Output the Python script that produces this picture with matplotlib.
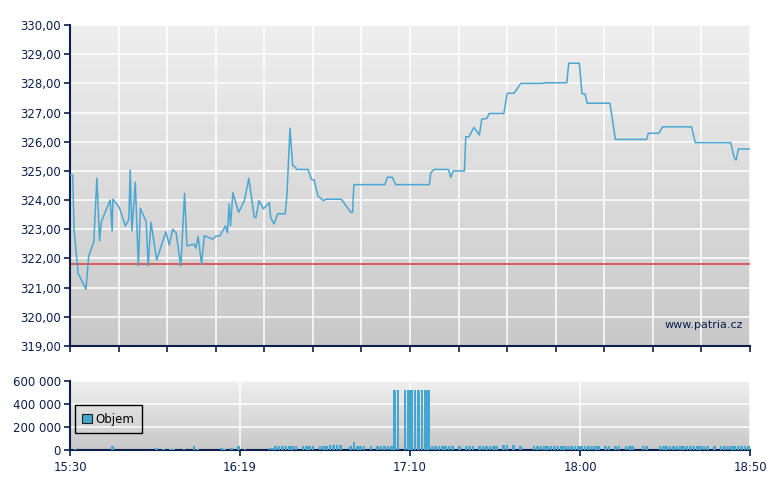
import numpy as np
import matplotlib
matplotlib.use("Agg")
import matplotlib.pyplot as plt
from matplotlib.colors import LinearSegmentedColormap
from matplotlib.patches import Patch

# cena: minuty od 15:30, kurz v CZK
price_min = [0.0, 0.3, 0.8, 1.2, 2.4, 4.7, 5.5, 7.0, 7.9, 8.7, 9.2, 11.8, 12.4, 12.6,
             14.5, 16.3, 17.3, 17.7, 18.2, 19.2, 20.1, 20.7, 22.4, 23.0, 23.8, 25.5,
             28.2, 29.2, 30.2, 31.2, 32.6, 33.7, 34.4, 36.5, 37.0, 37.7, 38.7, 39.5,
             42.0, 42.9, 44.1, 44.6, 45.7, 46.3, 46.8, 47.2, 47.9, 49.6, 51.3, 52.6,
             54.2, 54.7, 55.6, 56.9, 58.6, 59.0, 60.0, 61.1, 63.3, 63.8, 64.7, 65.5,
             66.2, 66.7, 70.0, 71.0, 71.8, 72.9, 74.5, 75.3, 79.8, 82.6, 83.1, 83.5,
             92.6, 93.3, 94.8, 95.8, 105.7, 106.1, 107.1, 111.3, 112.0, 112.7, 116.0,
             116.4, 117.3, 118.8, 120.4, 121.1, 122.6, 123.3, 127.6, 128.6, 130.6,
             132.6, 139.0, 139.7, 146.1, 146.7, 149.8, 150.6, 151.5, 152.1, 158.8,
             160.4, 169.6, 170.1, 173.2, 174.3, 182.8, 183.9, 194.3, 195.3, 195.9,
             196.6, 200.0]
price_val = [324.86, 324.86, 324.86, 322.97, 321.49, 320.95, 322.08, 322.57, 324.75,
             322.60, 323.26, 324.00, 322.94, 324.03, 323.75, 323.11, 323.34, 325.03,
             322.94, 324.61, 321.74, 323.72, 323.26, 321.74, 323.24, 321.95, 322.92,
             322.46, 323.00, 322.88, 321.74, 324.23, 322.43, 322.49, 322.35, 322.75,
             321.80, 322.78, 322.66, 322.77, 322.77, 322.88, 323.11, 322.88, 323.87,
             323.12, 324.25, 323.58, 323.98, 324.75, 323.40, 323.41, 323.98, 323.70,
             323.91, 323.41, 323.18, 323.53, 323.53, 324.17, 326.46, 325.18, 325.14,
             325.05, 325.05, 324.71, 324.69, 324.15, 323.98, 324.03, 324.03, 323.58,
             323.58, 324.53, 324.53, 324.78, 324.78, 324.53, 324.53, 324.94, 325.05,
             325.05, 324.78, 325.00, 325.00, 326.17, 326.17, 326.49, 326.23, 326.77,
             326.80, 326.97, 326.97, 327.66, 327.66, 328.00, 328.00, 328.02, 328.02,
             328.69, 328.69, 327.64, 327.64, 327.32, 327.32, 326.08, 326.08, 326.29,
             326.29, 326.51, 326.51, 325.97, 325.97, 325.47, 325.37, 325.75, 325.75]
prev_close = 321.8

# objem po minutach (tisice kusu)
vol_min = [1, 12, 25, 27, 29, 30, 33, 36, 37, 44, 45, 47, 49, 51, 58, 59, 60, 61, 62,
           63, 64, 65, 66, 68, 69, 70, 71, 73, 74, 75, 76, 77, 78, 79, 82, 83, 84, 85,
           86, 88, 90, 91, 92, 93, 94, 95, 96, 98, 99, 100, 101, 102, 103, 104, 105,
           106, 107, 108, 109, 110, 111, 112, 114, 116, 117, 118, 120, 121, 122, 123,
           124, 125, 127, 128, 130, 132, 136, 137, 138, 139, 140, 141, 142, 143, 144,
           145, 146, 147, 148, 149, 150, 151, 152, 153, 154, 155, 157, 158, 160, 161,
           163, 164, 165, 168, 169, 173, 174, 175, 176, 177, 178, 179, 180, 181, 182,
           183, 184, 185, 186, 187, 189, 191, 192, 193, 194, 195, 196, 197, 198, 199]
vol_k = [9, 35, 15, 10, 8, 10, 10, 35, 12, 17, 12, 17, 35, 12, 17, 17, 35, 35, 35,
         35, 35, 35, 35, 35, 35, 35, 35, 35, 35, 35, 40, 45, 45, 45, 35, 70, 35, 35,
         35, 35, 35, 35, 35, 35, 35, 520, 520, 520, 520, 520, 520, 520, 520, 520, 520,
         35, 35, 35, 35, 35, 35, 35, 35, 35, 35, 35, 35, 35, 35, 35,
         35, 35, 40, 43, 43, 35, 35, 35, 35, 35, 35, 35, 35, 35, 35,
         35, 35, 35, 35, 35, 35, 35, 35, 35, 35, 35, 35, 35, 35, 35,
         35, 35, 35, 35, 35, 35, 35, 35, 35, 35, 35, 35, 35, 35, 35,
         35, 35, 35, 35, 35, 35, 35, 35, 35, 35, 35, 35, 35, 35, 35]

time_ticks = [0, 50, 100, 150, 200]
time_labels = ["15:30", "16:19", "17:10", "18:00", "18:50"]
vol_ticks = [0, 200000, 400000, 600000]
vol_labels = ["0", "200 000", "400 000", "600 000"]

navy = "#0b1f4e"
line_blue = "#4aa7d3"
bar_blue = "#45a6d0"

bg = LinearSegmentedColormap.from_list("bg", ["#c8c8c8", "#efefef"])
grad = np.linspace(0, 1, 256).reshape(-1, 1)

fig = plt.figure(figsize=(7.8, 4.9), dpi=100)
ax = fig.add_axes([70 / 780, 1 - 346 / 490, 680 / 780, 321 / 490])
ax2 = fig.add_axes([70 / 780, 1 - 450 / 490, 680 / 780, 69 / 490])

for a in (ax, ax2):
    a.imshow(grad, cmap=bg, origin="lower", extent=[0, 1, 0, 1], transform=a.transAxes,
             aspect="auto", zorder=-2)
    a.set_axisbelow(True)
    a.grid(True, color="white", lw=1.1)
    for s in ("top", "right"):
        a.spines[s].set_visible(False)
    for s in ("left", "bottom"):
        a.spines[s].set_color(navy)
        a.spines[s].set_linewidth(1.5)
    a.tick_params(colors=navy, labelcolor=navy, labelsize=8.5, length=4, width=1.2, pad=2.5)
    a.set_xlim(0, 200)

# horni graf
ax.plot(price_min, price_val, color=line_blue, lw=1.1, zorder=3)
ax.axhline(prev_close, color="#e03a3a", lw=1.1, zorder=2)
ax.set_ylim(319, 330)
ax.set_yticks(range(319, 331))
ax.set_yticklabels([f"{v},00" for v in range(319, 331)])
ax.set_xticks(np.linspace(0, 200, 15))
ax.set_xticklabels([])
ax.text(0.99, 0.065, "www.patria.cz", transform=ax.transAxes, ha="right", va="center",
        color=navy, fontsize=8)

# objem
ax2.bar([m + 0.1 for m in vol_min], [v * 1000 for v in vol_k], width=0.8, align="edge",
        color=bar_blue, lw=0, zorder=3)
ax2.set_ylim(0, 600000)
ax2.set_yticks(vol_ticks)
ax2.set_yticklabels(vol_labels)
ax2.set_xticks(time_ticks)
ax2.set_xticklabels(time_labels)
ax2.tick_params(axis="x", pad=4)
leg = ax2.legend(handles=[Patch(facecolor=bar_blue, edgecolor="#222222", lw=0.8, label="Objem")],
                 loc="lower left", bbox_to_anchor=(0.007, 0.246), frameon=True, fancybox=False,
                 facecolor="none", edgecolor="black", fontsize=8.5, handlelength=0.8,
                 handleheight=0.8, handletextpad=0.35, borderpad=0.62, borderaxespad=0)
leg.get_frame().set_linewidth(1.0)
leg.get_frame().set_alpha(None)

fig.savefig("out.png", dpi=100)
